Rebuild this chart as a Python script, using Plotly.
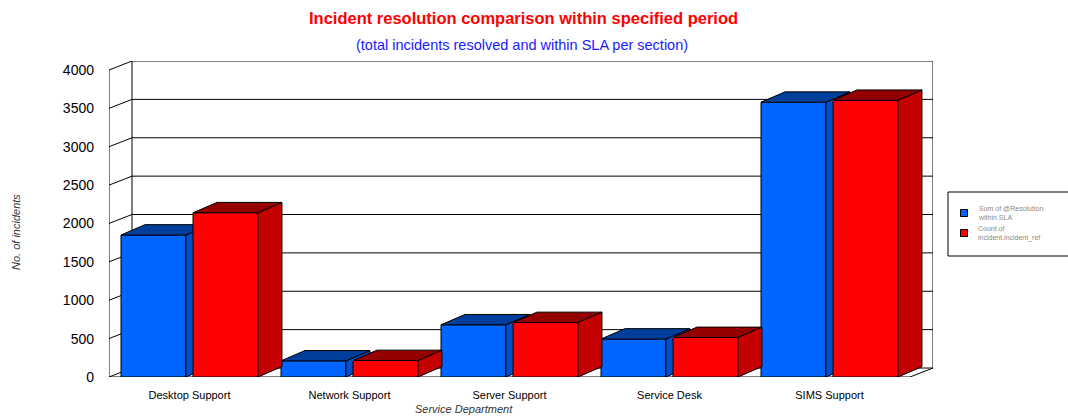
import plotly.graph_objects as go

# ---------------- data ----------------
categories = ["Desktop Support", "Network Support", "Server Support", "Service Desk", "SIMS Support"]
within_sla = [1850, 210, 680, 495, 3580]
resolved_count = [2140, 215, 710, 515, 3605]
series_names = ["Sum of @Resolution<br>within SLA", "Count of<br>incident.incident_ref"]
y_ticks = [0, 500, 1000, 1500, 2000, 2500, 3000, 3500, 4000]

title_text = "Incident resolution comparison within specified period"
subtitle_text = "(total incidents resolved and within SLA per section)"
x_title = "Service Department"
y_title = "No. of incidents"

# ---------------- layout / style ----------------
W, H = 1068, 418
ML, MR, MT, MB = 109, 135, 61, 41
PW, PH = W - ML - MR, H - MT - MB
X_RANGE = [-0.075, 5.075]
Y_MAX = 4117

WALL_DX, WALL_DY = 0.14375, 117
BAR_W, RED_OFF = 0.406, 0.45
DEPTH_DX, DEPTH_DY = 0.15, 135

BLUE = dict(front="#0066FF", top="#003E9C", side="#0050CC")
RED = dict(front="#FF0000", top="#940000", side="#C40000")
EDGE = "#000000"


def px(xp, yp):
    """pixel position -> paper coordinates"""
    return (xp - ML) / PW, (H - MB - yp) / PH


def faces(offset, values):
    tx, ty, sx, sy = [], [], [], []
    for i, v in enumerate(values):
        x0 = i + offset
        x1 = x0 + BAR_W
        tx += [x0, x1, x1 + DEPTH_DX, x0 + DEPTH_DX, x0, None]
        ty += [v, v, v + DEPTH_DY, v + DEPTH_DY, v, None]
        sx += [x1, x1 + DEPTH_DX, x1 + DEPTH_DX, x1, x1, None]
        sy += [0, DEPTH_DY, v + DEPTH_DY, v, 0, None]
    return tx, ty, sx, sy


idx = list(range(len(categories)))
fig = go.Figure()

for values, offset, col, xa, ya, name in [
    (within_sla, 0.0, BLUE, "x", "y", series_names[0]),
    (resolved_count, RED_OFF, RED, "x2", "y2", series_names[1]),
]:
    fig.add_trace(go.Bar(
        x=idx, y=values, width=BAR_W, offset=offset, name=name,
        marker=dict(color=col["front"], line=dict(color=EDGE, width=1)),
        xaxis=xa, yaxis=ya, showlegend=False, hoverinfo="y",
    ))
    tx, ty, sx, sy = faces(offset, values)
    fig.add_trace(go.Scatter(
        x=sx, y=sy, mode="lines", fill="toself", fillcolor=col["side"],
        line=dict(color=EDGE, width=1), xaxis=xa, yaxis=ya,
        showlegend=False, hoverinfo="skip",
    ))
    fig.add_trace(go.Scatter(
        x=tx, y=ty, mode="lines", fill="toself", fillcolor=col["top"],
        line=dict(color=EDGE, width=1), xaxis=xa, yaxis=ya,
        showlegend=False, hoverinfo="skip",
    ))

# ---------------- walls / grid ----------------
xL, xR = X_RANGE
top = max(y_ticks)
shapes = []
line = dict(color="#000000", width=1)
for t in y_ticks:
    # back wall gridline
    shapes.append(dict(type="line", xref="x", yref="y", x0=xL + WALL_DX, x1=xR,
                       y0=t + WALL_DY, y1=t + WALL_DY, line=line, layer="below"))
    # slanted tick on left wall
    shapes.append(dict(type="line", xref="x", yref="y", x0=xL, x1=xL + WALL_DX,
                       y0=t, y1=t + WALL_DY, line=line, layer="below"))
# front axis
shapes.append(dict(type="line", xref="x", yref="y", x0=xL, x1=xL, y0=0, y1=top,
                   line=line, layer="below"))
# back wall left & right edges
shapes.append(dict(type="line", xref="x", yref="y", x0=xL + WALL_DX, x1=xL + WALL_DX,
                   y0=WALL_DY, y1=top + WALL_DY, line=line, layer="below"))
shapes.append(dict(type="line", xref="x", yref="y", x0=xR, x1=xR,
                   y0=WALL_DY, y1=top + WALL_DY, line=line, layer="below"))
# floor front edge and right slant
shapes.append(dict(type="line", xref="x", yref="y", x0=xL, x1=xR - WALL_DX,
                   y0=0, y1=0, line=line, layer="below"))
shapes.append(dict(type="line", xref="x", yref="y", x0=xR - WALL_DX, x1=xR,
                   y0=0, y1=WALL_DY, line=line, layer="below"))

# ---------------- legend (manual) ----------------
bx0, by0 = px(948, 192)
bx1, by1 = px(1076, 256)
shapes.append(dict(type="rect", xref="paper", yref="paper", x0=bx0, x1=bx1, y0=by1, y1=by0,
                   line=dict(color="#000000", width=1), fillcolor="white", layer="above"))
annotations = []
for (cy, col, name) in [(213, BLUE["front"], series_names[0]), (233, RED["front"], series_names[1])]:
    sx0, sy0 = px(960.5, cy - 3.5)
    sx1, sy1 = px(967.5, cy + 3.5)
    shapes.append(dict(type="rect", xref="paper", yref="paper", x0=sx0, x1=sx1, y0=sy1, y1=sy0,
                       line=dict(color="#000000", width=1), fillcolor=col, layer="above"))
    ax, ay = px(976, cy)
    annotations.append(dict(xref="paper", yref="paper", x=ax, y=ay, xanchor="left", yanchor="middle",
                            text=name, showarrow=False, align="left",
                            font=dict(family="Liberation Sans, Arial", size=7, color="#8a8a8a")))

# ---------------- titles ----------------
tx_, ty_ = px(523, 18)
annotations.append(dict(xref="paper", yref="paper", x=tx_, y=ty_, xanchor="center", yanchor="middle",
                        text="<b>" + title_text + "</b>", showarrow=False,
                        font=dict(family="Liberation Sans, Arial", size=16.5, color="#FF0000")))
sx_, sy_ = px(522, 45)
annotations.append(dict(xref="paper", yref="paper", x=sx_, y=sy_, xanchor="center", yanchor="middle",
                        text=subtitle_text, showarrow=False,
                        font=dict(family="Liberation Sans, Arial", size=14.5, color="#1A1AFF")))
xx_, xy_ = px(464, 409)
annotations.append(dict(xref="paper", yref="paper", x=xx_, y=xy_, xanchor="center", yanchor="middle",
                        text="<i>" + x_title + "</i>", showarrow=False,
                        font=dict(family="Liberation Sans, Arial", size=11, color="#333333")))
yx_, yy_ = px(16, 232)
annotations.append(dict(xref="paper", yref="paper", x=yx_, y=yy_, xanchor="center", yanchor="middle",
                        text="<i>" + y_title + "</i>", showarrow=False, textangle=-90,
                        font=dict(family="Liberation Sans, Arial", size=11, color="#333333")))

fig.update_layout(
    width=W, height=H,
    margin=dict(l=ML, r=MR, t=MT, b=MB, pad=0),
    paper_bgcolor="white", plot_bgcolor="white",
    barmode="overlay", showlegend=False,
    shapes=shapes, annotations=annotations,
    xaxis=dict(range=X_RANGE, showgrid=False, zeroline=False, showline=False,
               tickmode="array", tickvals=[i + (RED_OFF + BAR_W) / 2 for i in idx], ticktext=categories,
               ticks="", ticklabelstandoff=10,
               tickfont=dict(family="Liberation Sans, Arial", size=11, color="#000000")),
    yaxis=dict(range=[0, Y_MAX], showgrid=False, zeroline=False, showline=False,
               tickmode="array", tickvals=y_ticks, ticktext=[str(t) for t in y_ticks],
               ticks="", ticklabelstandoff=14,
               tickfont=dict(family="Liberation Sans, Arial", size=14, color="#000000")),
    xaxis2=dict(overlaying="x", matches="x", visible=False),
    yaxis2=dict(overlaying="y", matches="y", visible=False),
)

fig.write_html("out.html")
